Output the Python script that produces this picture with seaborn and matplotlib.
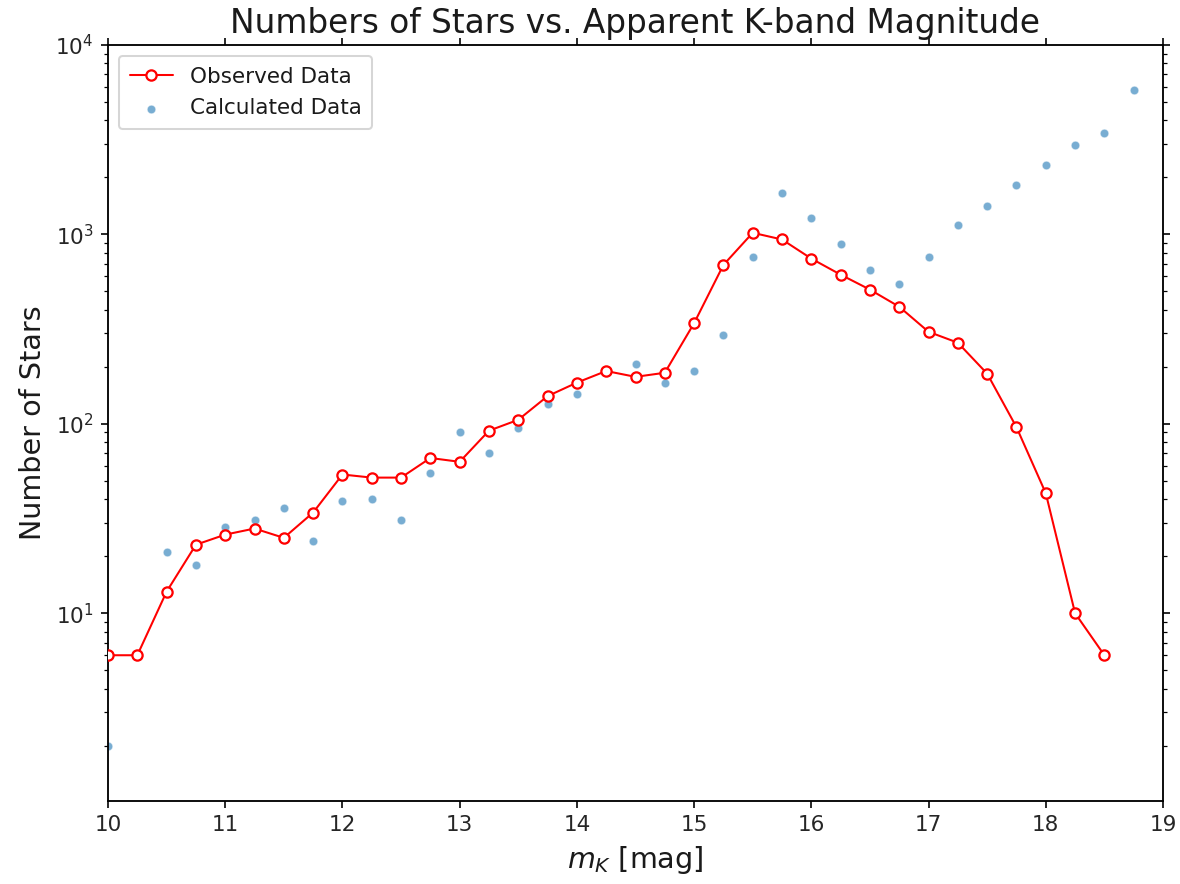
import numpy as np
import pandas as pd
import matplotlib
matplotlib.use("Agg")
import matplotlib.pyplot as plt
import seaborn as sns

# Apparent K-band magnitude bins (0.25 mag)
mag_observed = [10.0, 10.25, 10.5, 10.75, 11.0, 11.25, 11.5, 11.75, 12.0, 12.25,
                12.5, 12.75, 13.0, 13.25, 13.5, 13.75, 14.0, 14.25, 14.5, 14.75,
                15.0, 15.25, 15.5, 15.75, 16.0, 16.25, 16.5, 16.75, 17.0, 17.25,
                17.5, 17.75, 18.0, 18.25, 18.5]
n_observed = [6, 6, 13, 23, 26, 28, 25, 34, 54, 52,
              52, 66, 63, 92, 105, 140, 165, 190, 177, 186,
              340, 690, 1020, 940, 745, 613, 511, 415, 306, 268,
              184, 96, 43, 10, 6]

mag_calculated = [10.0, 10.5, 10.75, 11.0, 11.25, 11.5, 11.75, 12.0, 12.25,
                  12.5, 12.75, 13.0, 13.25, 13.5, 13.75, 14.0, 14.5, 14.75,
                  15.0, 15.25, 15.5, 15.75, 16.0, 16.25, 16.5, 16.75, 17.0, 17.25,
                  17.5, 17.75, 18.0, 18.25, 18.5, 18.75]
n_calculated = [2, 21, 18, 28.5, 31, 36, 24, 39, 40,
                31, 55, 90, 70, 95, 127, 143, 206, 164,
                191, 295, 760, 1650, 1215, 885, 645, 550, 760, 1120,
                1420, 1830, 2330, 2950, 3450, 5800]

df_obs = pd.DataFrame({"mag": mag_observed, "n": n_observed})
df_calc = pd.DataFrame({"mag": mag_calculated, "n": n_calculated})

sns.set_style("white")
plt.rcParams.update({
    "font.family": ["DejaVu Sans"],
    "text.color": "black",
    "axes.labelcolor": "black",
    "axes.edgecolor": "black",
    "axes.linewidth": 0.9,
    "xtick.color": "black",
    "ytick.color": "black",
    "xtick.labelcolor": "#262626",
    "ytick.labelcolor": "#262626",
    "xtick.direction": "out",
    "ytick.direction": "out",
    "xtick.major.size": 3.5,
    "ytick.major.size": 3.5,
    "ytick.minor.size": 2.0,
    "xtick.labelsize": 10.5,
    "ytick.labelsize": 10.5,
})

fig = plt.figure(figsize=(8, 884 / 147.5), dpi=147.5)
ax = fig.add_axes([108 / 1180, 1 - 801 / 884, (1163 - 108) / 1180, (801 - 45) / 884])

sns.lineplot(data=df_obs, x="mag", y="n", ax=ax, color="red", linewidth=1.0,
             marker="o", markersize=5, markerfacecolor="white",
             markeredgecolor="red", markeredgewidth=1.1,
             label="Observed Data", zorder=3)
sns.scatterplot(data=df_calc, x="mag", y="n", ax=ax, color="#1f77b4",
                alpha=0.6, s=18, edgecolor="white", linewidth=0.5,
                label="Calculated Data", zorder=2)

ax.set_yscale("log")
ax.set_xlim(10, 19)
ax.set_ylim(1.02, 1e4)
ax.set_xticks(range(10, 20))

ax.tick_params(axis="both", which="both", top=True, right=True,
               left=True, bottom=True, direction="out")
ax.tick_params(axis="y", which="minor", left=True, right=True)

ax.set_title("Numbers of Stars vs. Apparent K-band Magnitude", fontsize=16, color="#1a1a1a")
ax.set_xlabel("$m_K$ [mag]", fontsize=14, color="#1a1a1a")
ax.set_ylabel("Number of Stars", fontsize=14, color="#1a1a1a")

leg = ax.legend(loc="upper left", fontsize=10.5, frameon=True, borderpad=0.5,
                labelspacing=0.55)
for t in leg.get_texts():
    t.set_color("#1a1a1a")

fig.savefig("out.png", dpi=147.5)
